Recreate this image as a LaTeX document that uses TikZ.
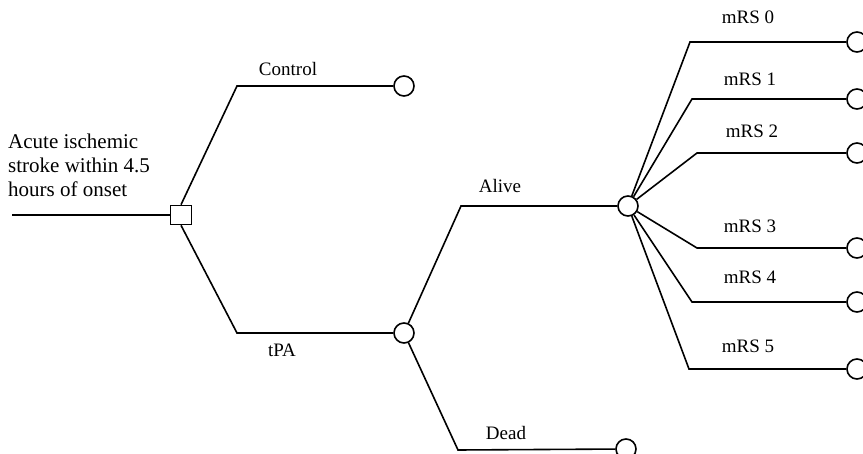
\documentclass[tikz,border=0pt]{standalone}
\usepackage{fontspec}
\setmainfont{Liberation Serif}
\tikzset{
    decision/.style={draw, line width=1.6pt, minimum width=21pt, minimum height=19pt, inner sep=0pt, fill=white},
    chance/.style={draw, circle, line width=1.6pt, minimum size=20pt, inner sep=0pt, fill=white},
    branch/.style={line width=1.6pt},
    lbl/.style={font=\fontsize{19}{22}\selectfont, inner sep=0pt, anchor=base}
}
\begin{document}
\begin{tikzpicture}[x=1pt,y=-1pt]
    \clip (0,0) rectangle (863,454);

    % decision
    \coordinate (start) at (12,215);
    \node[decision] (dec) at (181,215) {};
    \node[font=\fontsize{21}{24}\selectfont, align=left, anchor=north west, inner sep=0pt] (question) at (8,134)
        {Acute ischemic\\stroke within 4.5\\hours of onset};
    \draw[branch] (start) -- (dec);

    % control and tPA
    \node[chance] (ctrl) at (404,86) {};
    \node[chance] (tpa) at (404,333) {};
    \coordinate (cbend) at (237,86);
    \coordinate (tbend) at (237,333);
    \draw[branch] (dec.north) -- (cbend) -- (ctrl);
    \draw[branch] (dec.south) -- (tbend) -- (tpa);
    \node[lbl] (lctrl) at (288,76) {Control};
    \node[lbl] (ltpa) at (282,357) {tPA};

    % alive and dead
    \node[chance] (alive) at (628,206) {};
    \node[chance] (dead) at (626,449) {};
    \coordinate (abend) at (461,206);
    \coordinate (dbend) at (458,450);
    \draw[branch] (tpa) -- (abend) -- (alive);
    \draw[branch] (tpa) -- (dbend) -- (dead);
    \node[lbl] (lalive) at (500,193) {Alive};
    \node[lbl] (ldead) at (506,440) {Dead};

    % mRS outcomes
    \foreach \i/\y/\bx/\lx/\ly in {0/42/690/748/24, 1/99/692/750/86, 2/153/697/752/138,
                                   3/248/697/750/233, 4/302/692/750/284, 5/369/689/748/353}{
        \node[chance] (m\i) at (857,\y) {};
        \coordinate (mb\i) at (\bx,\y);
        \draw[branch] (alive) -- (mb\i) -- (m\i);
        \node[lbl] (lm\i) at (\lx,\ly) {mRS \i};
    }
\end{tikzpicture}
\end{document}
